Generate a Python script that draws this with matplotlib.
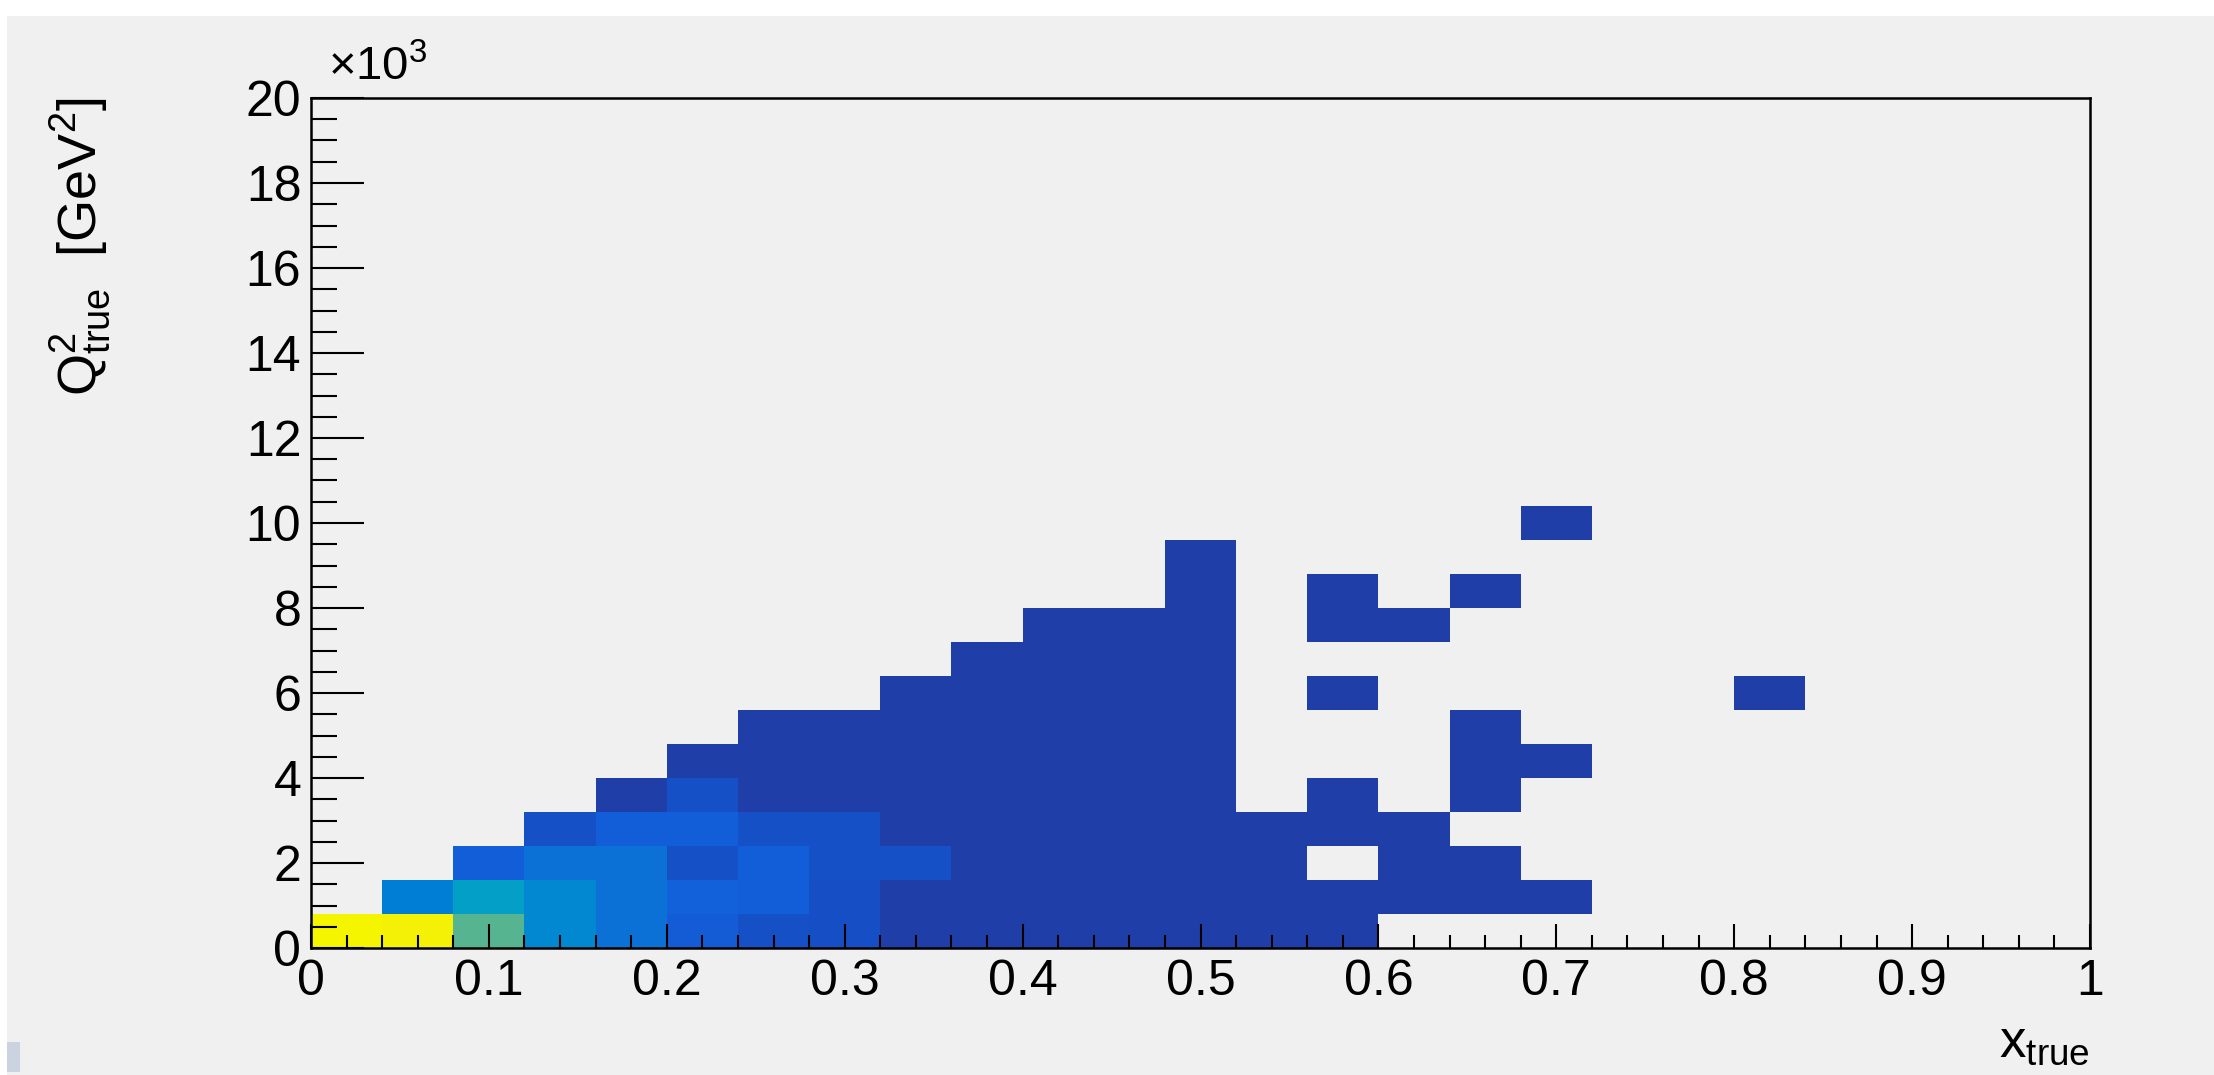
import matplotlib.pyplot as plt
import numpy as np
from matplotlib.colors import LinearSegmentedColormap
from matplotlib.patches import Rectangle
from matplotlib.ticker import FuncFormatter, MultipleLocator

# Binning: 25 x 25 over x in [0, 1] and Q^2 in [0, 20000] GeV^2
x_edges = np.linspace(0.0, 1.0, 26)
q2_edges = np.linspace(0.0, 20000.0, 26)

# Bin contents, one list per Q^2 row (lowest row first), 25 x-bins each
row_00 = [250, 246, 137, 57, 35, 21, 15, 14, 1, 1, 1, 1, 1, 1, 1, 0, 0, 0, 0, 0, 0, 0, 0, 0, 0]
row_01 = [0, 47, 82, 57, 35, 23, 22, 14, 1, 1, 1, 1, 1, 1, 1, 1, 1, 1, 0, 0, 0, 0, 0, 0, 0]
row_02 = [0, 0, 22, 35, 35, 15, 22, 15, 15, 1, 1, 1, 1, 1, 0, 1, 1, 0, 0, 0, 0, 0, 0, 0, 0]
row_03 = [0, 0, 0, 15, 22, 22, 15, 15, 1, 1, 1, 1, 1, 1, 1, 1, 0, 0, 0, 0, 0, 0, 0, 0, 0]
row_04 = [0, 0, 0, 0, 1, 15, 1, 1, 1, 1, 1, 1, 1, 0, 1, 0, 1, 0, 0, 0, 0, 0, 0, 0, 0]
row_05 = [0, 0, 0, 0, 0, 1, 1, 1, 1, 1, 1, 1, 1, 0, 0, 0, 1, 1, 0, 0, 0, 0, 0, 0, 0]
row_06 = [0, 0, 0, 0, 0, 0, 1, 1, 1, 1, 1, 1, 1, 0, 0, 0, 1, 0, 0, 0, 0, 0, 0, 0, 0]
row_07 = [0, 0, 0, 0, 0, 0, 0, 0, 1, 1, 1, 1, 1, 0, 1, 0, 0, 0, 0, 0, 1, 0, 0, 0, 0]
row_08 = [0, 0, 0, 0, 0, 0, 0, 0, 0, 1, 1, 1, 1, 0, 0, 0, 0, 0, 0, 0, 0, 0, 0, 0, 0]
row_09 = [0, 0, 0, 0, 0, 0, 0, 0, 0, 0, 1, 1, 1, 0, 1, 1, 0, 0, 0, 0, 0, 0, 0, 0, 0]
row_10 = [0, 0, 0, 0, 0, 0, 0, 0, 0, 0, 0, 0, 1, 0, 1, 0, 1, 0, 0, 0, 0, 0, 0, 0, 0]
row_11 = [0, 0, 0, 0, 0, 0, 0, 0, 0, 0, 0, 0, 1, 0, 0, 0, 0, 0, 0, 0, 0, 0, 0, 0, 0]
row_12 = [0, 0, 0, 0, 0, 0, 0, 0, 0, 0, 0, 0, 0, 0, 0, 0, 0, 1, 0, 0, 0, 0, 0, 0, 0]

rows = [row_00, row_01, row_02, row_03, row_04, row_05, row_06,
        row_07, row_08, row_09, row_10, row_11, row_12]
counts = np.zeros((25, 25))
counts[:len(rows)] = np.array(rows)
counts = np.ma.masked_equal(counts, 0)

# bird-like palette
bird = LinearSegmentedColormap.from_list("bird", [
    (0.000, "#213DA5"),
    (0.060, "#1550C8"),
    (0.088, "#125FDA"),
    (0.140, "#0B72D6"),
    (0.188, "#007DD5"),
    (0.228, "#0288D0"),
    (0.328, "#04A0C6"),
    (0.548, "#55B590"),
    (0.700, "#A8BC6A"),
    (0.850, "#F0C23A"),
    (1.000, "#F5F500"),
])

plt.rcParams["font.family"] = ["Liberation Sans", "DejaVu Sans"]
plt.rcParams["mathtext.fontset"] = "custom"
plt.rcParams["mathtext.rm"] = "Liberation Sans"
plt.rcParams["mathtext.it"] = "Liberation Sans:italic"
plt.rcParams["mathtext.bf"] = "Liberation Sans:bold"

W, H = 2214, 1075
bg = "#F0F0F0"
fig = plt.figure(figsize=(W / 100, H / 100), dpi=100, facecolor=bg)

# white strips along the top and left border
fig.patches.append(Rectangle((0, 1 - 16 / H), 1, 16 / H, transform=fig.transFigure,
                             facecolor="white", edgecolor="none", zorder=0))
fig.patches.append(Rectangle((0, 0), 7 / W, 1, transform=fig.transFigure,
                             facecolor="white", edgecolor="none", zorder=0))
fig.patches.append(Rectangle((7 / W, 1 - 1072 / H), 13 / W, 30 / H, transform=fig.transFigure,
                             facecolor="#CCD3E0", edgecolor="none", zorder=0))

ax = fig.add_axes([311 / W, 1 - 948 / H, 1779 / W, 850 / H])
ax.set_facecolor(bg)
ax.pcolormesh(x_edges, q2_edges, counts, cmap=bird, vmin=0, vmax=250, shading="flat")

ax.set_xlim(0, 1)
ax.set_ylim(0, 20000)

for s in ax.spines.values():
    s.set_linewidth(1.8)

ax.xaxis.set_major_locator(MultipleLocator(0.1))
ax.xaxis.set_minor_locator(MultipleLocator(0.02))
ax.yaxis.set_major_locator(MultipleLocator(2000))
ax.yaxis.set_minor_locator(MultipleLocator(500))
ax.xaxis.set_major_formatter(FuncFormatter(lambda v, p: f"{v:g}"))
ax.yaxis.set_major_formatter(FuncFormatter(lambda v, p: f"{v / 1000:g}"))

ax.tick_params(axis="both", which="both", direction="in", width=1.5, colors="black",
               labelsize=36, top=False, right=False)
ax.tick_params(axis="x", which="major", length=17, pad=8)
ax.tick_params(axis="x", which="minor", length=9.5)
ax.tick_params(axis="y", which="major", length=38, pad=7)
ax.tick_params(axis="y", which="minor", length=19)

# axis titles and exponent, placed like the ROOT canvas
fig.text(328 / W, 1 - 80 / H, r"$\mathregular{\times10^{3}}$", fontsize=34,
         ha="left", va="baseline")
fig.text(2090 / W, 1 - 1057 / H, r"$\mathregular{x_{true}}$", fontsize=38,
         ha="right", va="baseline")
fig.text(81 / W, 1 - 97 / H, r"$\mathregular{Q^{2}_{true}}$  [GeV$\mathregular{^{2}}$]",
         fontsize=39, rotation=90, ha="center", va="top")

plt.savefig("out.png", dpi=100, facecolor=bg)
